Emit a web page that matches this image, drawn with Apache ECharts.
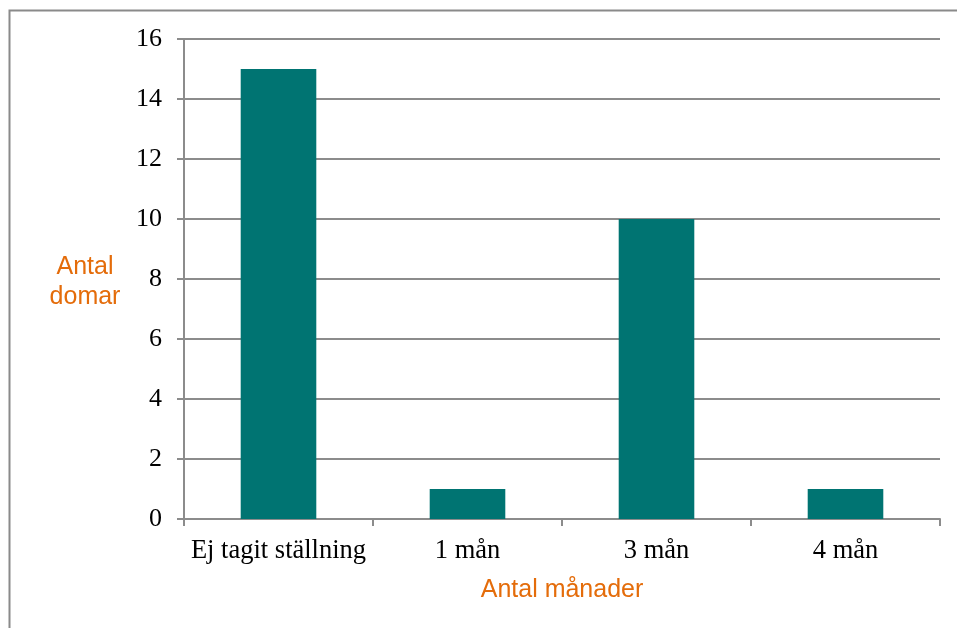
<!DOCTYPE html>
<html>
<head>
<meta charset="utf-8">
<script src="https://cdn.jsdelivr.net/npm/echarts@6/dist/echarts.min.js"></script>
<style>
  html, body { margin: 0; padding: 0; background: #fff; }
  #chart { width: 957px; height: 628px; }
</style>
</head>
<body>
<div id="chart"></div>
<script>
// Categories and counts
const categories = ['Ej tagit ställning', '1 mån', '3 mån', '4 mån'];
const counts = [15, 1, 10, 1];
const yTicks = { min: 0, max: 16, interval: 2 };

const chart = echarts.init(document.getElementById('chart'));
const serif = '"Liberation Serif", "Times New Roman", serif';
const sans = '"Liberation Sans", Arial, sans-serif';
const orange = '#E46C0A';
const gray = '#8c8c8c';

chart.setOption({
  animation: false,
  backgroundColor: '#ffffff',
  graphic: [{
    type: 'rect',
    shape: { x: 9.5, y: 10.5, width: 960, height: 640 },
    style: { fill: 'none', stroke: '#8a8a8a', lineWidth: 2 },
    silent: true
  }, {
    type: 'text',
    x: 85, y: 282,
    style: {
      text: 'Antal\ndomar',
      fill: orange,
      font: '25px ' + sans,
      align: 'center',
      verticalAlign: 'middle',
      lineHeight: 30
    }
  }],
  grid: { left: 184, top: 39, right: 17, bottom: 109, containLabel: false },
  xAxis: {
    type: 'category',
    data: categories,
    name: 'Antal månader',
    nameLocation: 'middle',
    nameGap: 59,
    nameTextStyle: { color: orange, fontFamily: sans, fontSize: 25 },
    axisLine: { show: true, lineStyle: { color: gray, width: 2 } },
    axisTick: { show: true, interval: 0, length: 7, lineStyle: { color: gray, width: 2 } },
    axisLabel: { interval: 0, hideOverlap: false, color: '#000', fontFamily: serif, fontSize: 26.5, margin: 19 },
    splitLine: { show: false }
  },
  yAxis: {
    type: 'value',
    min: yTicks.min, max: yTicks.max, interval: yTicks.interval,
    axisLine: { show: true, lineStyle: { color: gray, width: 2 } },
    axisTick: { show: true, length: 7, lineStyle: { color: gray, width: 2 } },
    axisLabel: { color: '#000', fontFamily: serif, fontSize: 26, margin: 22 },
    splitLine: { show: true, lineStyle: { color: gray, width: 2 } }
  },
  series: [{
    type: 'bar',
    data: counts,
    barWidth: '40%',
    itemStyle: { color: '#007472' }
  }]
});
</script>
</body>
</html>
